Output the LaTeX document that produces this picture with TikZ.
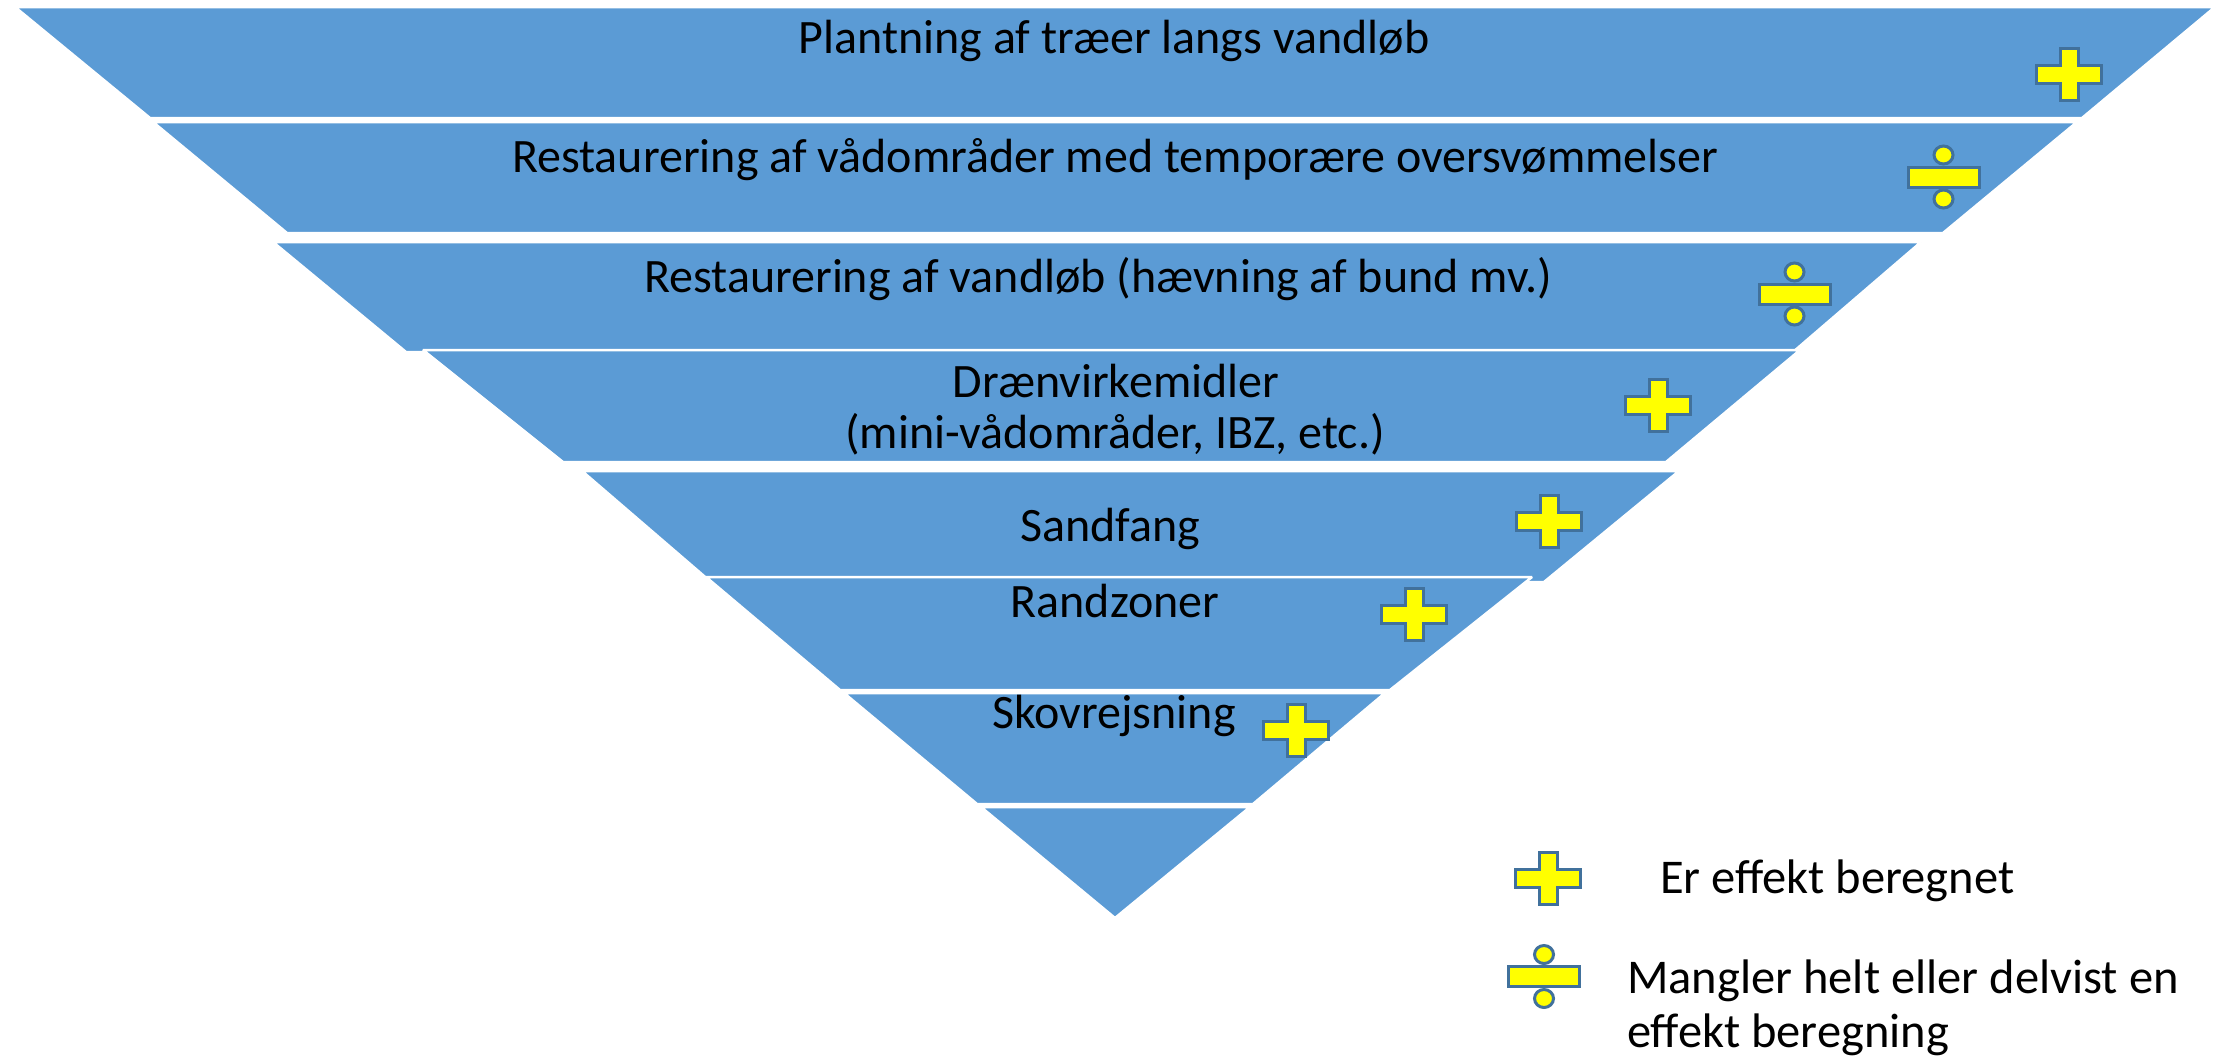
\documentclass[tikz,border=0pt]{standalone}
\usepackage{fontspec}
\setmainfont{Carlito}
\definecolor{bandblue}{HTML}{5B9BD5}
\definecolor{symline}{HTML}{41719C}
\definecolor{symfill}{HTML}{FFFF00}
\tikzset{
  band/.style={fill=bandblue, draw=white, line width=2.5pt, line join=bevel},
  symbol/.style={fill=symfill, draw=symline, line width=3pt},
  bandtext/.style={anchor=base, inner sep=0pt, font=\fontsize{48}{51}\selectfont, text=black},
  legtext/.style={anchor=base west, inner sep=0pt, font=\fontsize{48.5}{54}\selectfont, text=black},
  plusmark/.pic={
    \path[symbol] (-32.5,-9) -- (-9,-9) -- (-9,-26) -- (9,-26) -- (9,-9) -- (32.5,-9)
      -- (32.5,9) -- (9,9) -- (9,26) -- (-9,26) -- (-9,9) -- (-32.5,9) -- cycle;
  },
  divmark/.pic={
    \path[symbol] (-35.5,-10) rectangle (35.5,10);
    \path[symbol] (0,-22) ellipse [x radius=9.5, y radius=9];
    \path[symbol] (0,22) ellipse [x radius=9.5, y radius=9];
  }
}
\begin{document}
\begin{tikzpicture}[x=1pt,y=-1pt]
\useasboundingbox (0,0) rectangle (2221,1063);
% bands
\path[band] (15,7) -- (2215,7) -- (2082,118) -- (150,118) -- cycle;
\path[band] (153,122) -- (2077,122) -- (1943,233) -- (287,233) -- cycle;
\path[band] (273,242) -- (1921,242) -- (1793,352) -- (406,352) -- cycle;
\path[band] (423,350) -- (1800,350) -- (1666,462) -- (563,462) -- cycle;
\path[band] (582,471) -- (1679,471) -- (1544,582) -- (711,582) -- cycle;
\path[band] (706,577) -- (1532,577) -- (1390,690) -- (840,690) -- cycle;
\path[band] (844,693) -- (1385,693) -- (1253,804) -- (977,804) -- cycle;
\path[band] (981,807) -- (1250,807) -- (1115,918) -- cycle;
% texts
\node[bandtext] (t1) at (1114,53) {Plantning af træer langs vandløb};
\node[bandtext] (t2) at (1115,172) {Restaurering af vådområder med temporære oversvømmelser};
\node[bandtext] (t3) at (1098,292) {Restaurering af vandløb (hævning af bund mv.)};
\node[bandtext] (t4a) at (1116,397) {Drænvirkemidler};
\node[bandtext] (t4b) at (1115,448) {(mini-vådområder, IBZ, etc.)};
\node[bandtext] (t5) at (1110,541) {Sandfang};
\node[bandtext] (t6) at (1115,617) {Randzoner};
\node[bandtext] (t7) at (1114,728) {Skovrejsning};
% symbols
\pic (s1) at (2069,74) {plusmark};
\pic (s2) at (1943.5,177) {divmark};
\pic (s3) at (1794.5,294) {divmark};
\pic (s4) at (1658,405) {plusmark};
\pic (s5) at (1549,521) {plusmark};
\pic (s6) at (1414,614) {plusmark};
\pic (s7) at (1296,730) {plusmark};
% legend
\pic (lp) at (1548,878) {plusmark};
\pic (ld) at (1544,976.5) {divmark};
\node[legtext] (l1) at (1660,893) {Er effekt beregnet};
\node[legtext] (l2) at (1627,993) {Mangler helt eller delvist en};
\node[legtext] (l3) at (1627,1047) {effekt beregning};
\end{tikzpicture}
\end{document}
